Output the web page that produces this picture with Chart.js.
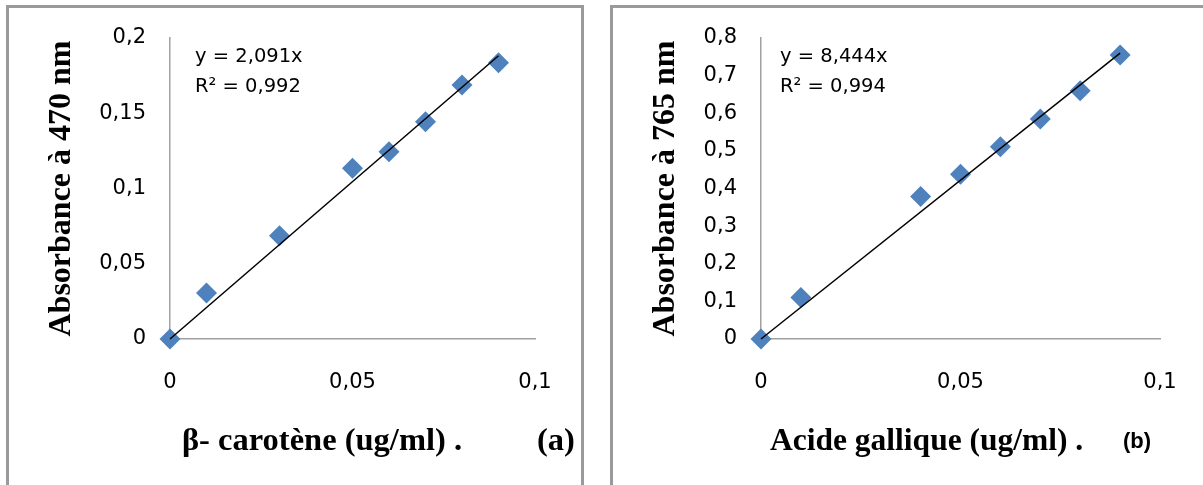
<!DOCTYPE html>
<html>
<head>
<meta charset="utf-8">
<title>Courbes d'étalonnage</title>
<script src="https://cdn.jsdelivr.net/npm/chart.js"></script>
<style>
  html, body { margin: 0; padding: 0; background: #fff; overflow: hidden; }
  .panel { position: absolute; top: 5px; height: 600px; border: 3px solid #9a9a9a; box-sizing: border-box; }
  #panelA { left: 6px; width: 578px; }
  #panelB { left: 610px; width: 700px; }
  canvas { position: absolute; }
  #chartA { left: 10px; top: -2px; }
  #chartB { left: 614px; top: -2px; }
</style>
</head>
<body>
<div class="panel" id="panelA"></div>
<div class="panel" id="panelB"></div>
<canvas id="chartA" width="580" height="487"></canvas>
<canvas id="chartB" width="601" height="487"></canvas>
<script>
"use strict";

// beta-carotene standard (ug/ml vs absorbance at 470 nm)
var caroteneConc = [0, 0.01, 0.03, 0.05, 0.06, 0.07, 0.08, 0.09];
var caroteneAbs = [0, 0.0305, 0.0686, 0.1135, 0.1245, 0.1444, 0.1688, 0.1836];
var caroteneSlope = 2.091;
var caroteneR2 = 0.992;
var caroteneYTicks = [0, 0.05, 0.1, 0.15, 0.2];

// gallic acid standard (ug/ml vs absorbance at 765 nm)
var gallicConc = [0, 0.01, 0.04, 0.05, 0.06, 0.07, 0.08, 0.09];
var gallicAbs = [0, 0.110, 0.379, 0.438, 0.511, 0.585, 0.660, 0.755];
var gallicSlope = 8.444;
var gallicR2 = 0.994;
var gallicYTicks = [0, 0.1, 0.2, 0.3, 0.4, 0.5, 0.6, 0.7, 0.8];

var concTicks = [0, 0.05, 0.1];

var comma = function (v) { return String(v).replace('.', ','); };

var tickFont = { family: 'DejaVu Sans', size: 21 };
var titleFont = { family: 'Liberation Serif', size: 32, weight: 'bold' };

// free text drawn on the canvas: regression equation, x title, panel letter
var captions = {
    id: 'captions',
    afterDraw: function (chart, args, opts) {
        var ctx = chart.ctx, area = chart.chartArea;
        ctx.save();
        ctx.fillStyle = '#000';
        ctx.textBaseline = 'alphabetic';
        ctx.textAlign = 'left';
        opts.items.forEach(function (it) {
            ctx.font = it.font;
            ctx.fillText(it.text, area.left + it.dx, it.y);
        });
        ctx.restore();
    }
};

var makeChart = function (id, cfg) {
    var last = cfg.conc[cfg.conc.length - 1];
    var points = cfg.conc.map(function (c, i) { return { x: c, y: cfg.abs[i] }; });
    var trend = [{ x: 0, y: 0 }, { x: last, y: cfg.slope * last }];

    return new Chart(document.getElementById(id), {
        type: 'scatter',
        data: {
            datasets: [{
                type: 'line',
                data: trend,
                borderColor: '#000',
                borderWidth: 1.5,
                pointRadius: 0,
                fill: false,
                clip: false,
                order: 0
            }, {
                data: points,
                pointStyle: 'rectRot',
                pointRadius: 10.5,
                pointBackgroundColor: '#4F81BD',
                pointBorderWidth: 0,
                clip: false,
                order: 1
            }]
        },
        options: {
            responsive: false,
            animation: false,
            layout: { padding: { left: 0, top: 40, right: 55, bottom: 0 } },
            plugins: {
                legend: { display: false },
                tooltip: { enabled: false },
                captions: {
                    items: [
                        { text: 'y = ' + comma(cfg.slope) + 'x', font: '19.5px "DejaVu Sans"', dx: cfg.eqDx, y: 64 },
                        { text: 'R\u00b2 = ' + comma(cfg.r2), font: '19.5px "DejaVu Sans"', dx: cfg.eqDx, y: 94 },
                        { text: cfg.xTitle, font: cfg.xTitleFont, dx: cfg.xTitleDx, y: 452 },
                        { text: cfg.letter, font: cfg.letterFont, dx: cfg.letterDx, y: cfg.letterY }
                    ]
                }
            },
            scales: {
                x: {
                    type: 'linear',
                    min: 0,
                    max: 0.1,
                    afterBuildTicks: function (s) { s.ticks = concTicks.map(function (v) { return { value: v }; }); },
                    afterFit: function (s) { s.height = 146; },
                    grid: { display: false, drawTicks: false },
                    border: { display: true, color: '#a0a0a0', width: 1.5 },
                    ticks: { font: tickFont, color: '#000', padding: 31, maxRotation: 0, callback: comma }
                },
                y: {
                    type: 'linear',
                    min: 0,
                    max: cfg.yMax,
                    afterBuildTicks: function (s) { s.ticks = cfg.yTicks.map(function (v) { return { value: v }; }); },
                    afterFit: function (s) { s.width = cfg.yWidth; },
                    grid: { display: false, drawTicks: false },
                    border: { display: true, color: '#a0a0a0', width: 1.5 },
                    ticks: { font: tickFont, color: '#000', padding: 24, callback: comma },
                    title: {
                        display: true,
                        text: cfg.yTitle,
                        font: titleFont,
                        color: '#000',
                        padding: { top: 33, bottom: 0 }
                    }
                }
            }
        },
        plugins: [captions]
    });
};

makeChart('chartA', {
    conc: caroteneConc, abs: caroteneAbs, slope: caroteneSlope, r2: caroteneR2,
    yMax: 0.2, yTicks: caroteneYTicks, yWidth: 160,
    yTitle: 'Absorbance à 470 nm',
    xTitle: '\u03b2- carotène (ug/ml) .', xTitleFont: 'bold 32.5px "Liberation Serif"', xTitleDx: 12,
    letter: '(a)', letterFont: 'bold 32.5px "Liberation Serif"', letterDx: 367, letterY: 452,
    eqDx: 25
});

makeChart('chartB', {
    conc: gallicConc, abs: gallicAbs, slope: gallicSlope, r2: gallicR2,
    yMax: 0.8, yTicks: gallicYTicks, yWidth: 147,
    yTitle: 'Absorbance à 765 nm',
    xTitle: 'Acide gallique (ug/ml) .', xTitleFont: 'bold 31.5px "Liberation Serif"', xTitleDx: 9,
    letter: '(b)', letterFont: 'bold 22px "Liberation Sans"', letterDx: 362, letterY: 450,
    eqDx: 19
});
</script>
</body>
</html>
